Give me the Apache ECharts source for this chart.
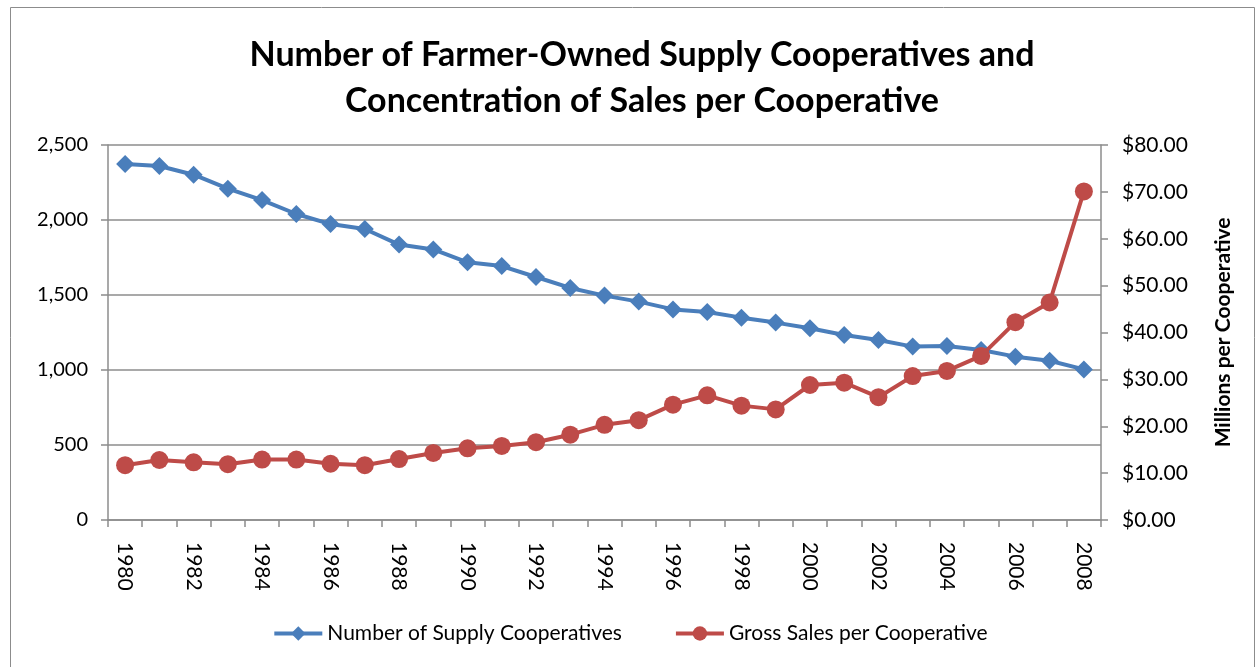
<!DOCTYPE html>
<html>
<head>
<meta charset="utf-8">
<script src="https://cdn.jsdelivr.net/npm/echarts@6/dist/echarts.min.js"></script>
<style>
  html, body { margin: 0; padding: 0; background: #fff; }
  #chart { width: 1260px; height: 667px; }
</style>
</head>
<body>
<div id="chart"></div>
<script>
const years = ['1980', '1981', '1982', '1983', '1984', '1985', '1986', '1987', '1988', '1989',
  '1990', '1991', '1992', '1993', '1994', '1995', '1996', '1997', '1998', '1999',
  '2000', '2001', '2002', '2003', '2004', '2005', '2006', '2007', '2008']

// number of supply cooperatives (left axis)
const coopCount = [2373, 2360, 2302, 2209, 2133, 2040, 1973, 1940, 1836, 1804,
  1718, 1693, 1620, 1547, 1496, 1456, 1404, 1387, 1349, 1316,
  1278, 1233, 1200, 1156, 1160, 1133, 1089, 1062, 1004]

// gross sales per cooperative, millions of dollars (right axis)
const salesPerCoop = [11.7, 12.8, 12.3, 11.9, 12.9, 12.9, 12.0, 11.7, 13.0, 14.3,
  15.3, 15.8, 16.6, 18.2, 20.3, 21.3, 24.6, 26.6, 24.4, 23.6,
  28.8, 29.3, 26.2, 30.7, 31.8, 35.0, 42.2, 46.4, 70.1]

const leftTicks = [0, 2500, 500]
const rightTicks = [0, 80, 10]

const FONT = 'Lato'
const GRAY = '#8c8c8c'

const chart = echarts.init(document.getElementById('chart'))

const option = {
  backgroundColor: '#fff',
  textStyle: { fontFamily: FONT, color: '#000' },
  animation: false,
  graphic: [{
    type: 'rect',
    shape: { x: 10.5, y: 7.5, width: 1244, height: 680 },
    style: { fill: 'none', stroke: '#8c8c8c', lineWidth: 1 },
    silent: true,
  }],
  title: {
    text: 'Number of Farmer-Owned Supply Cooperatives and\nConcentration of Sales per Cooperative',
    left: 637,
    top: 27,
    textAlign: 'center',
    textStyle: {
      fontFamily: FONT,
      fontWeight: 'bold',
      fontSize: 34,
      lineHeight: 46,
      color: '#000',
    },
  },
  legend: {
    bottom: 18,
    left: 'center',
    itemWidth: 48,
    itemHeight: 18,
    itemGap: 52,
    lineStyle: { width: 4 },
    textStyle: { fontFamily: FONT, fontSize: 21, color: '#000' },
    data: [
      { name: 'Number of Supply Cooperatives', lineStyle: { width: 4 } },
      { name: 'Gross Sales per Cooperative', lineStyle: { width: 4 } },
    ],
  },
  grid: {
    left: 108,
    right: 159,
    top: 145,
    bottom: 147,
  },
  xAxis: {
    type: 'category',
    data: years,
    boundaryGap: true,
    axisLine: { lineStyle: { color: GRAY, width: 1.5 } },
    axisTick: { show: true, interval: 0, length: 7, lineStyle: { color: GRAY, width: 1.5 } },
    axisLabel: {
      interval: 1,
      rotate: -90,
      fontSize: 21,
      fontFamily: FONT,
      color: '#000',
      margin: 22,
    },
    splitLine: { show: false },
  },
  yAxis: [{
    type: 'value',
    min: leftTicks[0],
    max: leftTicks[1],
    interval: leftTicks[2],
    axisLine: { show: true, lineStyle: { color: GRAY, width: 1.5 } },
    axisTick: { show: true, length: 7, lineStyle: { color: GRAY, width: 1.5 } },
    axisLabel: {
      fontSize: 20,
      fontFamily: FONT,
      color: '#000',
      margin: 20,
      formatter: (v) => v.toLocaleString('en-US'),
    },
    splitLine: { show: true, lineStyle: { color: GRAY, width: 1.5 } },
  }, {
    type: 'value',
    position: 'right',
    min: rightTicks[0],
    max: rightTicks[1],
    interval: rightTicks[2],
    name: 'Millions per Cooperative',
    nameLocation: 'middle',
    nameRotate: 90,
    nameGap: 112,
    nameTextStyle: { fontFamily: FONT, fontSize: 21, fontWeight: 'bold', color: '#000' },
    axisLine: { show: true, lineStyle: { color: GRAY, width: 1.5 } },
    axisTick: { show: true, length: 7, lineStyle: { color: GRAY, width: 1.5 } },
    axisLabel: {
      fontSize: 21,
      fontFamily: FONT,
      color: '#000',
      margin: 21,
      formatter: (v) => '$' + v.toFixed(2),
    },
    splitLine: { show: false },
  }],
  series: [{
    name: 'Number of Supply Cooperatives',
    type: 'line',
    yAxisIndex: 0,
    data: coopCount,
    symbol: 'diamond',
    symbolSize: 18,
    lineStyle: { color: '#4a7ebb', width: 4 },
    itemStyle: { color: '#4a7ebb' },
    z: 3,
  }, {
    name: 'Gross Sales per Cooperative',
    type: 'line',
    yAxisIndex: 1,
    data: salesPerCoop,
    symbol: 'circle',
    symbolSize: 18,
    lineStyle: { color: '#be4b48', width: 4 },
    itemStyle: { color: '#be4b48' },
    z: 4,
  }],
}

chart.setOption(option)
</script>
</body>
</html>
